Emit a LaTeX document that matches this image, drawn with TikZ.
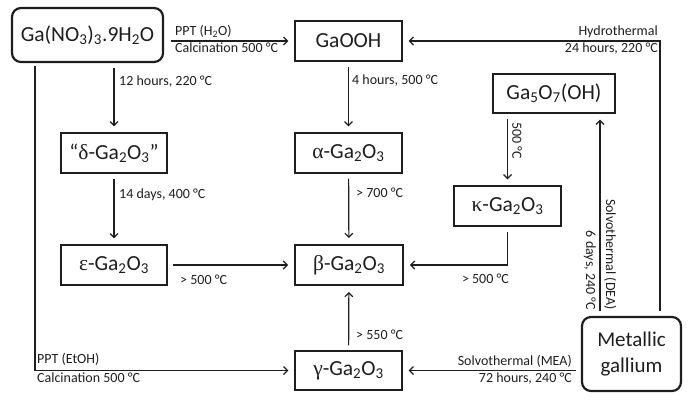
\documentclass[tikz,border=0pt]{standalone}
\usepackage{fontspec}
\setmainfont{Carlito}
\newfontfamily\grk{Liberation Serif}
\usetikzlibrary{arrows.meta}
\definecolor{ink}{HTML}{1E1E1E}
\begin{document}
\begin{tikzpicture}[x=1pt,y=-1pt,
  box/.style={draw=ink, line width=1.3pt, minimum height=40pt, minimum width=107pt, inner sep=0pt, font=\fontsize{21.5}{23}\selectfont, text=ink},
  rbox/.style={box, rounded corners=9pt, line width=2.2pt},
  arr/.style={draw=ink, line width=1.2pt, -{Straight Barb[length=4pt,width=8pt,line width=1.2pt]}, shorten >=6pt, shorten <=5pt},
  lbl/.style={font=\fontsize{14}{15}\selectfont, text=ink, inner sep=0pt}]
\useasboundingbox (0,0) rectangle (693,402);
% nodes
\node[rbox, minimum width=151pt, minimum height=54pt, font=\fontsize{21.5}{23}\selectfont] (gan) at (87.5,35) {Ga(NO\textsubscript{3})\textsubscript{3}.9H\textsubscript{2}O};
\node[box] (gaooh) at (348.5,41) {GaOOH};
\node[box, minimum width=122pt, minimum height=39pt] (ga5) at (554,93.5) {Ga\textsubscript{5}O\textsubscript{7}(OH)};
\node[box, minimum width=106pt] (delta) at (114,153) {“{\grk δ}-Ga\textsubscript{2}O\textsubscript{3}”};
\node[box] (alpha) at (348.5,153) {{\grk α}-Ga\textsubscript{2}O\textsubscript{3}};
\node[box] (kappa) at (507.5,206) {{\grk κ}-Ga\textsubscript{2}O\textsubscript{3}};
\node[box, minimum width=106pt] (eps) at (114,265) {{\grk ε}-Ga\textsubscript{2}O\textsubscript{3}};
\node[box, minimum width=108pt, line width=1.9pt] (beta) at (349,265) {{\grk β}-Ga\textsubscript{2}O\textsubscript{3}};
\node[box, minimum height=39pt] (gamma) at (348.5,370.5) {{\grk γ}-Ga\textsubscript{2}O\textsubscript{3}};
\node[rbox, minimum width=99pt, minimum height=74pt, align=center, font=\fontsize{21}{26}\selectfont] (metal) at (631.5,354) {Metallic\\gallium};
% connectors
\draw[arr, shorten <=7pt] (gan.east |- gaooh.west) -- (gaooh.west);
\draw[arr] (delta.north |- gan.south) -- (delta.north);
\draw[arr, shorten <=3pt] ([xshift=-52.5pt]gan.south) |- (gamma.west);
\draw[arr] (delta) -- (eps);
\draw[arr] (eps) -- (beta);
\draw[arr] (gaooh) -- (alpha);
\draw[arr] (alpha) -- (beta);
\draw[arr] (gamma) -- (beta);
\draw[arr] (kappa.north |- ga5.south) -- (kappa.north);
\draw[arr] (kappa.south) |- (beta.east);
\draw[arr] ([xshift=-31.5pt]metal.north) -- ([xshift=-31.5pt]metal.north |- ga5.south);
\draw[arr] ([xshift=28.5pt]metal.north) |- (gaooh.east);
\draw[arr] (metal.west |- gamma.east) -- (gamma.east);
% labels
\node[lbl, anchor=south west] (l1) at (175,38) {PPT (H\textsubscript{2}O)};
\node[lbl, anchor=north west] (l2) at (175,43) {Calcination 500 °C};
\node[lbl, anchor=west] (l3) at (119,82) {12 hours, 220 °C};
\node[lbl, anchor=west] (l4) at (352,81) {4 hours, 500 °C};
\node[lbl, anchor=west] (l5) at (119,195) {14 days, 400 °C};
\node[lbl, anchor=west] (l6) at (356,193) {> 700 °C};
\node[lbl, anchor=west] (l7) at (180,280) {> 500 °C};
\node[lbl, anchor=east] (l8) at (509,279) {> 500 °C};
\node[lbl, anchor=west] (l9) at (356,335) {> 550 °C};
\node[lbl, anchor=south east] (l10) at (658,38) {Hydrothermal};
\node[lbl, anchor=north east] (l11) at (658,43) {24 hours, 220 °C};
\node[lbl, anchor=south east] (l12) at (572,368) {Solvothermal (MEA)};
\node[lbl, anchor=north east] (l13) at (572,373) {72 hours, 240 °C};
\node[lbl, anchor=south west] (l14) at (37,366) {PPT (EtOH)};
\node[lbl, anchor=north west] (l15) at (37,373) {Calcination 500 °C};
\node[lbl, rotate=-90, anchor=south west] (l16) at (512,122) {500 °C};
\node[lbl, rotate=-90, anchor=south east] (l17) at (604,310) {Solvothermal (DEA)};
\node[lbl, rotate=-90, anchor=north east] (l18) at (596,310) {6 days, 240 °C};
\end{tikzpicture}
\end{document}
